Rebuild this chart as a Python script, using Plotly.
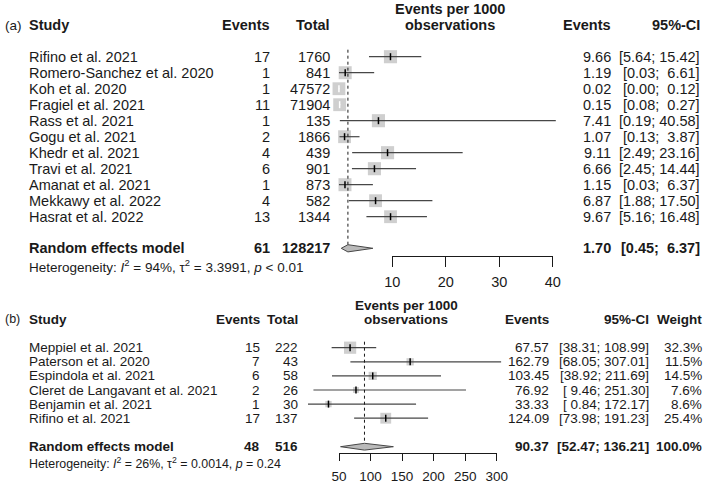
import math
import plotly.graph_objects as go

W, H = 709, 483
FONT = 'Liberation Sans'
INK = '#1a1a1a'
BOX = '#bababa'
LINE = '#474747'

# (a) all studies
studies_a = ['Rifino et al. 2021', 'Romero-Sanchez et al. 2020', 'Koh et al. 2020',
             'Fragiel et al. 2021', 'Rass et al. 2021', 'Gogu et al. 2021',
             'Khedr et al. 2021', 'Travi et al. 2021', 'Amanat et al. 2021',
             'Mekkawy et al. 2022', 'Hasrat et al. 2022']
events_a = [17, 1, 1, 11, 1, 2, 4, 6, 1, 4, 13]
total_a = [1760, 841, 47572, 71904, 135, 1866, 439, 901, 873, 582, 1344]
est_a = [9.66, 1.19, 0.02, 0.15, 7.41, 1.07, 9.11, 6.66, 1.15, 6.87, 9.67]
lo_a = [5.64, 0.03, 0.00, 0.08, 0.19, 0.13, 2.49, 2.45, 0.03, 1.88, 5.16]
hi_a = [15.42, 6.61, 0.12, 0.27, 40.58, 3.87, 23.16, 14.44, 6.37, 17.50, 16.48]
# weights are not printed in (a); estimated from the square sizes
weight_a = [9.3, 9.1, 8.9, 8.9, 9.3, 8.9, 9.3, 9.3, 9.1, 8.9, 8.9]
pooled_a = [61, 128217, 1.70, 0.45, 6.37]   # events, total, est, lower, upper
ticks_a = [10, 20, 30, 40]
het_a = 'Heterogeneity: <i>I</i><sup>2</sup> = 94%, τ<sup>2</sup> = 3.3991, <i>p</i> &lt; 0.01'

# (b)
studies_b = ['Meppiel et al. 2021', 'Paterson et al. 2020', 'Espindola et al. 2021',
             'Cleret de Langavant et al. 2021', 'Benjamin et al. 2021', 'Rifino et al. 2021']
events_b = [15, 7, 6, 2, 1, 17]
total_b = [222, 43, 58, 26, 30, 137]
est_b = [67.57, 162.79, 103.45, 76.92, 33.33, 124.09]
lo_b = [38.31, 68.05, 38.92, 9.46, 0.84, 73.98]
hi_b = [108.99, 307.01, 211.69, 251.30, 172.17, 191.23]
weight_b = [32.3, 11.5, 14.5, 7.6, 8.6, 25.4]
pooled_b = [48, 516, 90.37, 52.47, 136.21]
ticks_b = [50, 100, 150, 200, 250, 300]
het_b = 'Heterogeneity: <i>I</i><sup>2</sup> = 26%, τ<sup>2</sup> = 0.0014, <i>p</i> = 0.24'


def px(x):
    return x / W


def ci_text(lo, hi, wl, wh):
    return f'[{lo:{wl}.2f}; {hi:{wh}.2f}]'.replace(' ', '\u00a0')


def label(fig, text, x, y, anchor, size, bold=False):
    if bold:
        text = f'<b>{text}</b>'
    fig.add_annotation(text=text, x=px(x), y=y, xref='paper', yref='y',
                       xanchor=anchor, yanchor='middle', showarrow=False,
                       font=dict(family=FONT, size=size, color=INK))


def forest(fig, p, studies, events, totals, est, lo, hi, weights, pooled, ticks, het):
    t0, t1 = p['tick_px']
    scale = (t1 - t0) / (ticks[-1] - ticks[0])
    x_left = ticks[0] - t0 / scale
    rows = [p['row0'] + i * p['step'] for i in range(len(studies))]
    fs = p['font']

    # data axis spans the whole page, display axis only the tick range
    fig.layout[p['xa_name']] = dict(range=[x_left, x_left + W / scale], domain=[0, 1],
                                    visible=False, anchor='y', automargin=False,
                                    overlaying=p.get('overlay'))
    fig.layout[p['xt_name']] = dict(range=[ticks[0], ticks[-1]], domain=[px(t0), px(t1)],
                                    anchor='free', position=1 - p['axis_y'] / H,
                                    automargin=False,
                                    showline=True, linecolor=INK, linewidth=1,
                                    ticks='outside', ticklen=p['ticklen'], tickcolor=INK,
                                    ticklabelstandoff=3,
                                    tickvals=ticks, showgrid=False, zeroline=False,
                                    tickfont=dict(family=FONT, size=p['tick_font'], color=INK))
    fig.add_trace(go.Scatter(x=ticks, y=[p['axis_y']] * len(ticks), xaxis=p['xt'], yaxis='y',
                             mode='markers', marker=dict(opacity=0), hoverinfo='skip'))

    sides = [p['k_box'] * math.sqrt(w) for w in weights]
    inside = [(h - l) * scale < s for l, h, s in zip(lo, hi, sides)]

    # squares
    fig.add_trace(go.Scatter(x=est, y=rows, xaxis=p['xa'], yaxis='y', mode='markers',
                             marker=dict(symbol='square', size=sides, color=BOX,
                                         line=dict(width=0)),
                             hoverinfo='skip'))
    # CI lines
    for col, flag in [(LINE, False), ('white', True)]:
        xs, ys = [], []
        for i in range(len(est)):
            if inside[i] == flag:
                xs += [lo[i], hi[i], None]
                ys += [rows[i], rows[i], None]
        fig.add_trace(go.Scatter(x=xs, y=ys, xaxis=p['xa'], yaxis='y', mode='lines',
                                 line=dict(color=col, width=1.2), hoverinfo='skip'))
    # estimate ticks
    fig.add_trace(go.Scatter(x=est, y=rows, xaxis=p['xa'], yaxis='y', mode='markers',
                             marker=dict(symbol='line-ns', size=5,
                                         line=dict(width=1.5,
                                                   color=['white' if f else 'black' for f in inside])),
                             hoverinfo='skip'))

    ev, tot, m, l, u = pooled
    ry = p['re_y']
    dh = p['diamond_h']
    fig.add_trace(go.Scatter(x=[m, m], y=[rows[0] - p['dot_gap'], ry - dh], xaxis=p['xa'],
                             yaxis='y', mode='lines',
                             line=dict(color=INK, width=1, dash='dot'), hoverinfo='skip'))
    fig.add_trace(go.Scatter(x=[l, m, u, m, l], y=[ry, ry - dh, ry, ry + dh, ry],
                             xaxis=p['xa'], yaxis='y', mode='lines', fill='toself',
                             fillcolor=BOX, line=dict(color=LINE, width=1), hoverinfo='skip'))

    # header
    hy = p['head_y']
    label(fig, p['tag'], 3, hy, 'left', fs - 1)
    label(fig, 'Study', 27, hy, 'left', fs, True)
    label(fig, 'Events', p['c_ev'], hy, 'right', fs, True)
    label(fig, 'Total', p['c_tot'], hy, 'right', fs, True)
    label(fig, 'Events per 1000', p['c_mid'], p['head_y0'], 'center', fs, True)
    label(fig, 'observations', p['c_mid'], hy, 'center', fs, True)
    label(fig, 'Events', p['c_est'], hy, 'right', fs, True)
    label(fig, '95%-CI', p['c_ci'], hy, 'right', fs, True)
    if p.get('c_w'):
        label(fig, 'Weight', p['c_w'], hy, 'right', fs, True)

    wl, wh = p['ci_w']
    for i, y in enumerate(rows):
        label(fig, studies[i], 27, y, 'left', fs)
        label(fig, str(events[i]), p['c_ev'], y, 'right', fs)
        label(fig, str(totals[i]), p['c_tot'], y, 'right', fs)
        label(fig, f'{est[i]:.2f}', p['c_est'], y, 'right', fs)
        label(fig, ci_text(lo[i], hi[i], wl, wh), p['c_ci'], y, 'right', fs)
        if p.get('c_w'):
            label(fig, f'{weights[i]:.1f}%', p['c_w'], y, 'right', fs)

    label(fig, 'Random effects model', 27, ry, 'left', fs, True)
    label(fig, str(ev), p['c_ev'], ry, 'right', fs, True)
    label(fig, str(tot), p['c_tot'], ry, 'right', fs, True)
    label(fig, f'{m:.2f}', p['c_est'], ry, 'right', fs, True)
    label(fig, ci_text(l, u, wl, wh), p['c_ci'], ry, 'right', fs, True)
    if p.get('c_w'):
        label(fig, '100.0%', p['c_w'], ry, 'right', fs, True)
    label(fig, het, 27, p['het_y'], 'left', p['het_font'])


if __name__ == '__main__':
    panel_a = dict(tag='(a)', xa='x', xa_name='xaxis', xt='x3', xt_name='xaxis3',
                   row0=56.7, step=16.0, re_y=248.3, het_y=266, head_y=25, head_y0=8.5,
                   tick_px=(392.3, 552.7), axis_y=256, ticklen=10,
                   font=14.5, tick_font=14.5, het_font=13.5, k_box=4.3, diamond_h=3.6,
                   dot_gap=7,
                   c_ev=271.7, c_tot=331.7, c_mid=450, c_est=613, c_ci=701.7,
                   ci_w=(4, 5))
    panel_b = dict(tag='(b)', xa='x2', xa_name='xaxis2', xt='x4', xt_name='xaxis4',
                   overlay='x',
                   row0=347.7, step=14.1, re_y=446.7, het_y=462.7, head_y=319, head_y0=305,
                   tick_px=(339, 496.7), axis_y=453.3, ticklen=7,
                   font=13.5, tick_font=13.5, het_font=12.4, k_box=2.15, diamond_h=3.4,
                   dot_gap=6,
                   c_ev=261.7, c_tot=300, c_mid=406, c_est=550.7, c_ci=650.5, c_w=704,
                   ci_w=(5, 6))

    fig = go.Figure()
    forest(fig, panel_a, studies_a, events_a, total_a, est_a, lo_a, hi_a, weight_a,
           pooled_a, ticks_a, het_a)
    forest(fig, panel_b, studies_b, events_b, total_b, est_b, lo_b, hi_b, weight_b,
           pooled_b, ticks_b, het_b)

    fig.update_layout(width=W, height=H, margin=dict(l=0, r=0, t=0, b=0, autoexpand=False),
                      showlegend=False, hovermode=False,
                      paper_bgcolor='white', plot_bgcolor='rgba(0,0,0,0)',
                      yaxis=dict(range=[H, 0], domain=[0, 1], visible=False, anchor='x',
                                 automargin=False),
                      font=dict(family=FONT, color=INK))
    # page margin would shift the fixed-size figure by 8px
    fig.write_html('out.html', config={'displayModeBar': False},
                   post_script="document.body.style.margin='0';"
                               "document.body.style.overflow='hidden';")
